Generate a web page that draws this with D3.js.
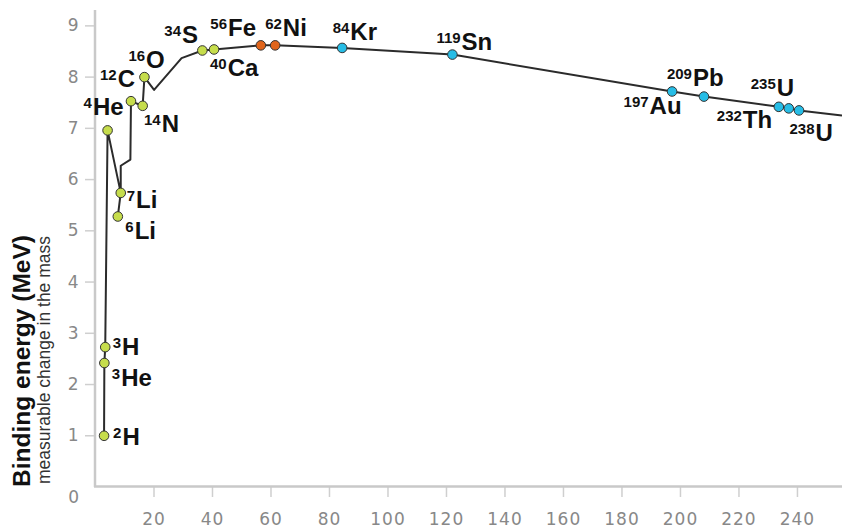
<!DOCTYPE html>
<html>
<head>
<meta charset="utf-8">
<script src="https://cdn.jsdelivr.net/npm/d3@7"></script>
<style>
  html, body { margin: 0; padding: 0; background: #fff; }
  svg { display: block; }
</style>
</head>
<body>
<svg id="chart" width="842" height="531"></svg>
<script>
// ---------- data ----------
const nuclideSymbols = ["H","He","H","He","Li","Li","C","N","O","S","Ca","Fe","Ni","Kr","Sn","Au","Pb","Th","U","U"];
const nuclideMassNumbers = ["2","3","3","4","6","7","12","14","16","34","40","56","62","84","119","197","209","232","235","238"];
const nuclideX = [3.1, 3.2, 3.5, 4.3, 7.8, 8.8, 12.3, 16.3, 16.9, 36.7, 40.7, 56.7, 61.6, 84.5, 122.2, 197.3, 208.2, 233.8, 237.2, 240.7];
const nuclideEnergy = [0.99, 2.41, 2.72, 6.95, 5.27, 5.73, 7.52, 7.43, 7.99, 8.51, 8.53, 8.61, 8.61, 8.56, 8.43, 7.71, 7.61, 7.41, 7.38, 7.34];
const nuclideGroup = ["light","light","light","light","light","light","light","light","light","light","light","peak","peak","heavy","heavy","heavy","heavy","heavy","heavy","heavy"];

const curveX = [3.1, 3.2, 3.5, 4.3, 8.8, 7.8, 8.8, 8.8, 12.1, 12.3, 16.3, 16.9, 20.2, 29.6, 36.7, 40.7, 56.7, 61.6, 84.5, 122.2, 197.3, 208.2, 233.8, 237.2, 240.7, 255.4];
const curveEnergy = [0.99, 2.41, 2.72, 6.95, 5.73, 5.27, 5.73, 6.26, 6.38, 7.52, 7.43, 7.99, 7.74, 8.36, 8.51, 8.53, 8.61, 8.61, 8.56, 8.43, 7.71, 7.61, 7.41, 7.38, 7.34, 7.24];

const yTicks = [1, 2, 3, 4, 5, 6, 7, 8, 9];
const xTicks = [20, 40, 60, 80, 100, 120, 140, 160, 180, 200, 220, 240];

const yTitle = "Binding energy (MeV)";
const ySubtitle = "measurable change in the mass";

// ---------- styling / layout ----------
const groupColor = { light: "#c6dd4c", peak: "#e0651c", heavy: "#27bde6" };
// label offsets relative to each dot (start of superscript, baseline of symbol)
const labelOffsets = [
  [9, 9], [7.5, 23], [7.5, 8], [-24, -15], [7.5, 23], [6, 15],
  [-31, -14], [1.3, 26], [-16, -9.5], [-38, -7.5], [-4, 27],
  [-50.5, -9], [-10, -9], [-9.5, -8], [-16, -4.5], [-48.5, 23],
  [-37, -10.5], [-62, 21], [-38, -12.5], [-9.5, 31]
];

const svg = d3.select("#chart");
const x = d3.scaleLinear().domain([0, 255.4]).range([95, 842]);
const y = d3.scaleLinear().domain([0, 9.3]).range([486.5, 10]);

const axisColor = "#c9c9c9";
const tickFont = "'DejaVu Sans', sans-serif";

// y axis ticks
const yAxis = svg.append("g").attr("transform", "translate(95,0)")
  .call(d3.axisLeft(y).tickValues(yTicks).tickSize(10).tickPadding(6).tickFormat(d3.format("d")));
yAxis.select(".domain").remove();
yAxis.selectAll(".tick line").attr("stroke", "#cfcfcf").attr("stroke-width", 1.5);
yAxis.selectAll(".tick text").attr("fill", "#888").attr("font-family", tickFont).attr("font-size", 17).attr("letter-spacing", 0.5);

// x axis ticks
const xAxis = svg.append("g").attr("transform", "translate(0,487)")
  .call(d3.axisBottom(x).tickValues(xTicks).tickSize(10).tickPadding(16).tickFormat(d3.format("d")));
xAxis.select(".domain").remove();
xAxis.selectAll(".tick line").attr("stroke", "#cfcfcf").attr("stroke-width", 1.5);
xAxis.selectAll(".tick text").attr("fill", "#888").attr("font-family", tickFont).attr("font-size", 17).attr("letter-spacing", 1);

// zero label
svg.append("text").attr("x", 79).attr("y", y(0) + 16).attr("text-anchor", "end")
  .attr("fill", "#888").attr("font-family", tickFont).attr("font-size", 17).text("0");

// axis lines
svg.append("line").attr("x1", 95).attr("x2", 95).attr("y1", 10).attr("y2", 487)
  .attr("stroke", axisColor).attr("stroke-width", 2.5);
svg.append("line").attr("x1", 94).attr("x2", 842).attr("y1", 486.5).attr("y2", 486.5)
  .attr("stroke", axisColor).attr("stroke-width", 2.5);

// axis titles
svg.append("text")
  .attr("transform", "translate(30,361) rotate(-90)")
  .attr("text-anchor", "middle")
  .attr("font-family", "'Liberation Sans', Arial, sans-serif")
  .attr("font-weight", "bold").attr("font-size", 24.5).attr("fill", "#111")
  .text(yTitle);
svg.append("text")
  .attr("transform", "translate(50,360) rotate(-90)")
  .attr("text-anchor", "middle")
  .attr("font-family", "'Liberation Sans', Arial, sans-serif")
  .attr("font-size", 17.5).attr("fill", "#333")
  .text(ySubtitle);

// curve
const line = d3.line().x((d, i) => x(curveX[i])).y((d, i) => y(curveEnergy[i]));
svg.append("path").datum(curveX).attr("d", line)
  .attr("fill", "none").attr("stroke", "#2b2b2b").attr("stroke-width", 2)
  .attr("stroke-linejoin", "round");

// dots
const nuclides = nuclideSymbols.map((s, i) => ({
  sym: s, a: nuclideMassNumbers[i], xv: nuclideX[i], e: nuclideEnergy[i], g: nuclideGroup[i], off: labelOffsets[i]
}));
svg.append("g").selectAll("circle").data(nuclides).join("circle")
  .attr("cx", d => x(d.xv)).attr("cy", d => y(d.e)).attr("r", 4.8)
  .attr("fill", d => groupColor[d.g]).attr("stroke", "#333").attr("stroke-width", 1);

// labels
const lbl = svg.append("g").selectAll("text").data(nuclides).join("text")
  .attr("x", d => x(d.xv) + d.off[0]).attr("y", d => y(d.e) + d.off[1])
  .attr("font-family", "'Liberation Sans', Arial, sans-serif")
  .attr("font-weight", "bold").attr("fill", "#111");
lbl.append("tspan").attr("font-size", 15).attr("dy", -7).text(d => d.a);
lbl.append("tspan").attr("font-size", 24).attr("dy", 7).attr("dx", 1).text(d => d.sym);
</script>
</body>
</html>
